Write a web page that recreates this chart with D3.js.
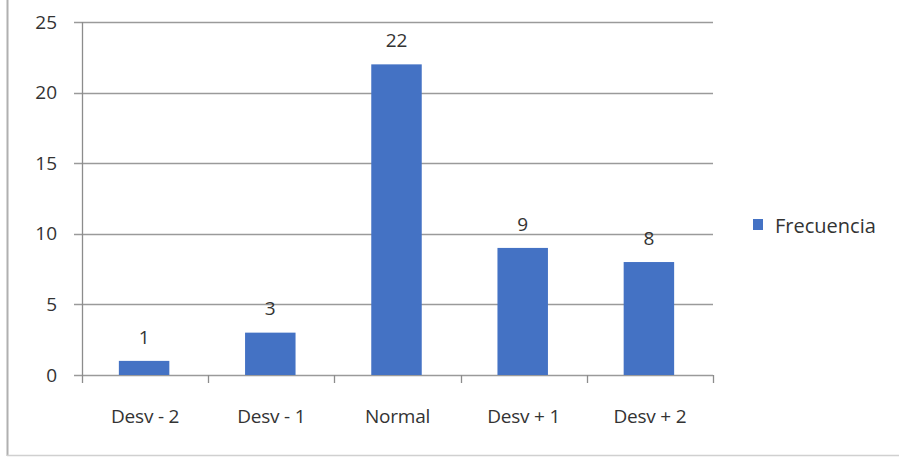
<!DOCTYPE html>
<html><head><meta charset="utf-8">
<script src="https://cdn.jsdelivr.net/npm/d3@7"></script>
<style>body{margin:0;background:#fff}svg{display:block}text{font-family:"Open Sans",sans-serif;fill:#333;font-weight:500}</style>
</head><body><svg id="c" width="899" height="457"></svg>
<script>
const categories = ["Desv - 2", "Desv - 1", "Normal", "Desv + 1", "Desv + 2"];
const values = [1, 3, 22, 9, 8];
const yTicks = [0, 5, 10, 15, 20, 25];
const seriesName = "Frecuencia";

(function(){
const svg = d3.select("#c");
const mL = 82, mR = 713, mT = 22, mB = 375;
const x = d3.scaleBand().domain(categories).range([mL, mR]);
const y = d3.scaleLinear().domain([0, 25]).range([mB, mT]);

// outer frame
svg.append("line").attr("x1",7.5).attr("x2",7.5).attr("y1",0).attr("y2",456).attr("stroke","#b0b0b0").attr("stroke-width",2);
svg.append("line").attr("x1",7).attr("x2",899).attr("y1",455.5).attr("y2",455.5).attr("stroke","#d0d0d0").attr("stroke-width",1.5);

// gridlines
svg.append("g").selectAll("line").data(yTicks).join("line")
  .attr("x1",74).attr("x2",mR).attr("y1",d=>Math.round(y(d))+0.5).attr("y2",d=>Math.round(y(d))+0.5)
  .attr("stroke","#9a9a9a").attr("stroke-width",1.3);

// y axis
svg.append("line").attr("x1",mL+0.5).attr("x2",mL+0.5).attr("y1",mT).attr("y2",mB).attr("stroke","#8c8c8c").attr("stroke-width",1.3);
svg.append("g").selectAll("text").data(yTicks).join("text")
  .attr("x",57).attr("y",d=>y(d)).attr("dy","0.35em").attr("text-anchor","end")
  .style("font-size","19px").text(d=>d);

// x tick marks
const xt = categories.map(c=>x(c)).concat([mR]);
svg.append("g").selectAll("line").data(xt).join("line")
  .attr("x1",d=>Math.round(d)+0.5).attr("x2",d=>Math.round(d)+0.5).attr("y1",mB).attr("y2",383)
  .attr("stroke","#8c8c8c").attr("stroke-width",1.3);

// bars
const bw = x.bandwidth()*0.4;
svg.append("g").selectAll("rect").data(values).join("rect")
  .attr("x",(d,i)=>x(categories[i])+x.bandwidth()/2-bw/2-1)
  .attr("width",bw).attr("y",d=>y(d)).attr("height",d=>mB-y(d)).attr("fill","#4472C4");

// value labels
svg.append("g").selectAll("text").data(values).join("text")
  .attr("x",(d,i)=>x(categories[i])+x.bandwidth()/2-1).attr("y",d=>y(d)-24).attr("dy","0.35em")
  .attr("text-anchor","middle").style("font-size","19px").text(d=>d);

// category labels
svg.append("g").selectAll("text").data(categories).join("text")
  .attr("x",c=>x(c)+x.bandwidth()/2).attr("y",416).attr("dy","0.35em")
  .attr("text-anchor","middle").style("font-size","19px").style("letter-spacing","-0.2px").text(c=>c);

// legend
svg.append("rect").attr("x",753).attr("y",219).attr("width",10).attr("height",11).attr("fill","#4472C4");
svg.append("text").attr("x",775).attr("y",226).attr("dy","0.35em").style("font-size","20px").text(seriesName);
})();
</script></body></html>
